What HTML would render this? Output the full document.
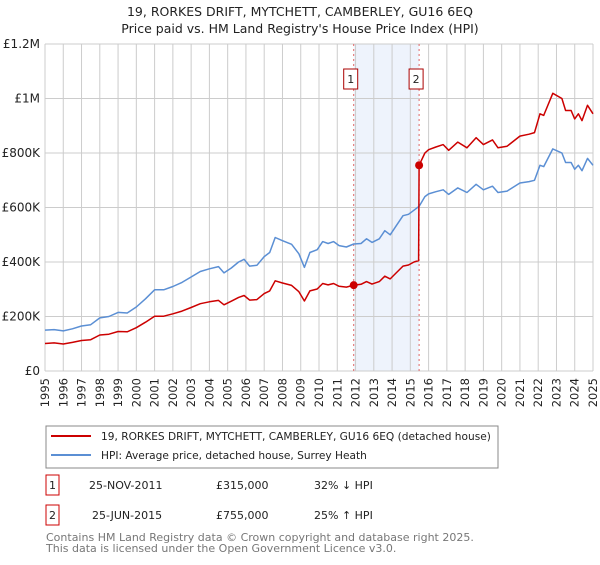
<!DOCTYPE html>
<html><head><meta charset="utf-8">
<style>
body{margin:0;background:#fff;font-family:"Liberation Sans","DejaVu Sans",sans-serif;}
svg text{font-family:"DejaVu Sans","Liberation Sans",sans-serif;}
</style></head>
<body>
<svg width="600" height="560" xmlns="http://www.w3.org/2000/svg">
<text x="300" y="16" text-anchor="middle" font-size="12.5" fill="#222">19, RORKES DRIFT, MYTCHETT, CAMBERLEY, GU16 6EQ</text>
<text x="300" y="33" text-anchor="middle" font-size="12.5" fill="#222">Price paid vs. HM Land Registry's House Price Index (HPI)</text>
<g id="plot"></g>
<g>
<rect x="46" y="426" width="452" height="42" fill="#fff" stroke="#888"/>
<line x1="51" y1="436" x2="91" y2="436" stroke="#cc0000" stroke-width="2"/>
<text x="101" y="440" font-size="10.6" fill="#222">19, RORKES DRIFT, MYTCHETT, CAMBERLEY, GU16 6EQ (detached house)</text>
<line x1="51" y1="455" x2="91" y2="455" stroke="#5b8fd4" stroke-width="2"/>
<text x="101" y="459" font-size="10.6" fill="#222">HPI: Average price, detached house, Surrey Heath</text>
</g>
<g>
<rect x="46" y="475" width="13" height="20" fill="#fff" stroke="#cc0000"/>
<text x="52.5" y="489" text-anchor="middle" font-size="11" fill="#222">1</text>
<text x="89" y="489" font-size="11" fill="#222">25-NOV-2011</text>
<text x="216" y="489" font-size="11" fill="#222">£315,000</text>
<text x="314" y="489" font-size="11" fill="#222">32% ↓ HPI</text>
<rect x="46" y="505" width="13" height="20" fill="#fff" stroke="#cc0000"/>
<text x="52.5" y="519" text-anchor="middle" font-size="11" fill="#222">2</text>
<text x="92" y="519" font-size="11" fill="#222">25-JUN-2015</text>
<text x="216" y="519" font-size="11" fill="#222">£755,000</text>
<text x="314" y="519" font-size="11" fill="#222">25% ↑ HPI</text>
</g>
<text x="46" y="541" font-size="11" fill="#777">Contains HM Land Registry data © Crown copyright and database right 2025.</text>
<text x="46" y="552" font-size="11" fill="#777">This data is licensed under the Open Government Licence v3.0.</text>
</svg>
<script>
const dates=[1995.0,1995.5,1996.0,1996.5,1997.0,1997.5,1998.0,1998.5,1999.0,1999.5,2000.0,2000.5,2001.0,2001.5,2002.0,2002.5,2003.0,2003.5,2004.0,2004.5,2004.8,2005.2,2005.6,2005.9,2006.2,2006.6,2007.0,2007.3,2007.6,2008.0,2008.5,2008.9,2009.2,2009.5,2009.9,2010.2,2010.5,2010.8,2011.1,2011.5,2011.9,2012.3,2012.6,2012.9,2013.3,2013.6,2013.9,2014.2,2014.6,2014.9,2015.2,2015.45,2015.48,2015.8,2016.0,2016.4,2016.8,2017.1,2017.6,2018.1,2018.6,2019.0,2019.5,2019.8,2020.3,2021.0,2021.5,2021.8,2022.1,2022.3,2022.8,2023.3,2023.5,2023.8,2024.0,2024.2,2024.4,2024.7,2025.0];
const hpiValues=[150,152,147,155,165,170,195,200,215,213,235,265,298,298,310,325,345,365,375,383,360,378,400,410,385,388,420,435,490,478,465,430,380,435,445,475,468,475,460,455,466,468,485,472,485,515,500,530,570,575,590,603,604,640,650,658,665,648,672,655,685,665,678,655,660,690,695,700,755,750,815,800,765,765,740,755,735,780,755];
const priceValues=[101,103,99,105,112,115,132,135,145,144,159,179,201,201,210,220,233,247,254,259,243,256,270,277,260,262,284,294,331,323,314,291,257,294,301,321,316,321,311,308,315,318,328,319,328,348,338,358,385,389,400,405,755,800,812,822,831,810,840,819,856,831,848,819,825,862,869,875,944,938,1019,1000,956,956,925,944,919,975,944];
const saleDates=[2011.9,2015.48];
const salePrices=[315,755];
const saleLabels=["1","2"];
const yTicks=[0,200,400,600,800,1000,1200];
const yTickLabels=["£0","£200K","£400K","£600K","£800K","£1M","£1.2M"];
const xYears=[1995,1996,1997,1998,1999,2000,2001,2002,2003,2004,2005,2006,2007,2008,2009,2010,2011,2012,2013,2014,2015,2016,2017,2018,2019,2020,2021,2022,2023,2024,2025];

const NS="http://www.w3.org/2000/svg";
const X0=45,X1=593,Y0=371,Y1=44;
function xs(t){return X0+(t-1995)/30*(X1-X0);}
function ys(v){return Y0-v/1200*(Y0-Y1);}
const g=document.getElementById('plot');
function mk(tag,attrs,parent){const e=document.createElementNS(NS,tag);for(const k in attrs)e.setAttribute(k,attrs[k]);(parent||g).appendChild(e);return e;}

let band=mk('rect',{x:xs(saleDates[0]),y:Y1,width:xs(saleDates[1])-xs(saleDates[0]),height:Y0-Y1,fill:'#eef3fc'});


xYears.forEach(yr=>{
 const l=mk('line',{x1:xs(yr),x2:xs(yr),y1:Y1,y2:Y0,stroke:'#cccccc','stroke-width':1});
 
 
 const t=mk('text',{x:0,y:0,'font-size':11.5,fill:'#222','text-anchor':'end',transform:`translate(${xs(yr)+4},${Y0+7}) rotate(-90)`});
 t.textContent=yr;
 
 
});
yTicks.forEach((v,i)=>{
 const l=mk('line',{x1:X0,x2:X1,y1:ys(v),y2:ys(v),stroke:'#cccccc','stroke-width':1});
 
 
 const t=mk('text',{x:40,y:ys(v)+4,'font-size':12,fill:'#222','text-anchor':'end'});
 t.textContent=yTickLabels[i];
 
 
});
saleDates.forEach((d,i)=>{
 const l=mk('line',{x1:xs(d),x2:xs(d),y1:Y1,y2:Y0,stroke:'#e06666','stroke-width':1,'stroke-dasharray':'2,3'});
 
 
});
function path(vals,color,name){
 const d=vals.map((v,i)=>(i?'L':'M')+xs(dates[i]).toFixed(1)+','+ys(v).toFixed(1)).join('');
 const p=mk('path',{d:d,fill:'none',stroke:color,'stroke-width':1.5,'stroke-linejoin':'round'});
 
 
}
path(hpiValues,'#5b8fd4','hpi-line');
path(priceValues,'#cc0000','price-line');
saleDates.forEach((d,i)=>{
 const c=mk('circle',{cx:xs(d),cy:ys(salePrices[i]),r:4,fill:'#cc0000'});
 
 
 const r=mk('rect',{x:xs(d)-10,y:69,width:14,height:20,fill:'#fff',stroke:'#aa0000'});
 
 
 const t=mk('text',{x:xs(d)-3,y:83,'font-size':11,fill:'#222','text-anchor':'middle'});
 t.textContent=saleLabels[i];
 
 
});
</script>
</body></html>
